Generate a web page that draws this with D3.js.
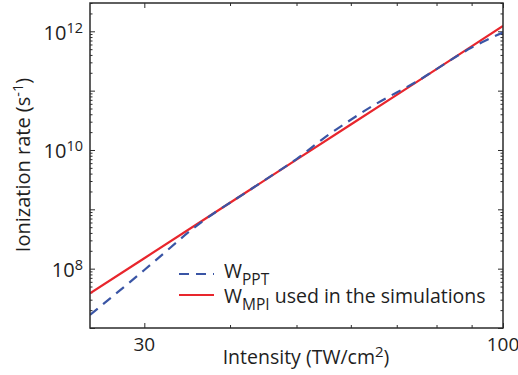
<!DOCTYPE html>
<html>
<head>
<meta charset="utf-8">
<script src="https://cdn.jsdelivr.net/npm/d3@7"></script>
<style>
  html, body { margin: 0; padding: 0; background: #fff; }
  svg { display: block; font-family: "Open Sans", "DejaVu Sans", sans-serif; }
</style>
</head>
<body>
<svg id="chart" width="518" height="375"></svg>
<script>
// Intensity grid (TW/cm^2) and ionization rates (s^-1)
const pptIntensity = [25, 30, 32.7, 35, 38.3, 40, 45, 50, 55, 60, 65, 70, 75, 80, 90, 95, 100];
const pptRate = [1.66e7, 9.5e7, 2.23e8, 4.35e8, 9.33e8, 1.29e9, 3.13e9, 7.03e9, 1.63e10, 3.23e10,
                 5.81e10, 9.33e10, 1.44e11, 2.31e11, 5.32e11, 7.28e11, 9.55e11];

const mpiIntensity = [25, 30, 40, 50, 60, 70, 80, 90, 100];
const mpiRate = [3.85e7, 1.50e8, 1.29e9, 6.87e9, 2.69e10, 8.51e10, 2.31e11, 5.57e11, 1.23e12];

// Axis ticks
const xMajorTicks = [30, 100];
const xMinorTicks = [40, 50, 60, 70, 80, 90];
const yLabelExponents = [8, 10, 12];

const svg = d3.select("#chart");
const plotLeft = 90, plotRight = 503, plotTop = 3, plotBottom = 328;

const x = d3.scaleLog().domain([25, 100]).range([plotLeft, plotRight]);
const y = d3.scaleLog().domain([1e7, 3e12]).range([plotBottom, plotTop]);

// y ticks: every decade major, 2..9 minor
const yMajor = d3.range(7, 13).map(e => Math.pow(10, e));
const yMinor = [];
for (let e = 7; e <= 12; e++) for (let k = 2; k <= 9; k++) {
  const v = k * Math.pow(10, e);
  if (v <= 3e12) yMinor.push(v);
}

const frameColor = "#2b2b2b";
const textColor = "#1e1e1e";
const red = "#e8262d";
const blue = "#3a55a5";

const g = svg.append("g");

// clip for the curves
svg.append("clipPath").attr("id", "plotclip")
  .append("rect").attr("x", plotLeft).attr("y", plotTop)
  .attr("width", plotRight - plotLeft).attr("height", plotBottom - plotTop);

// tick marks via axis generators (inward)
function tickAxis(gen, vals, size, transform) {
  g.append("g").attr("transform", transform)
    .call(gen.tickValues(vals).tickSize(size).tickFormat(""))
    .call(s => s.select(".domain").remove())
    .selectAll("line").attr("stroke", frameColor).attr("stroke-width", 1);
}
tickAxis(d3.axisBottom(x), xMajorTicks, -5, `translate(0,${plotBottom})`);
tickAxis(d3.axisBottom(x), xMinorTicks, -3, `translate(0,${plotBottom})`);
tickAxis(d3.axisTop(x), xMajorTicks, -5, `translate(0,${plotTop})`);
tickAxis(d3.axisTop(x), xMinorTicks, -3, `translate(0,${plotTop})`);
tickAxis(d3.axisLeft(y), yMajor, -5, `translate(${plotLeft},0)`);
tickAxis(d3.axisLeft(y), yMinor, -2.5, `translate(${plotLeft},0)`);
tickAxis(d3.axisRight(y), yMajor, -5, `translate(${plotRight},0)`);
tickAxis(d3.axisRight(y), yMinor, -2.5, `translate(${plotRight},0)`);

// curves
const line = d3.line().x(d => x(d[0])).y(d => y(d[1]));
const plot = g.append("g").attr("clip-path", "url(#plotclip)");

plot.append("path")
  .datum(mpiIntensity.map((v, i) => [v, mpiRate[i]]))
  .attr("fill", "none").attr("stroke", red).attr("stroke-width", 2.2)
  .attr("d", line);

plot.append("path")
  .datum(pptIntensity.map((v, i) => [v, pptRate[i]]))
  .attr("fill", "none").attr("stroke", blue).attr("stroke-width", 2.2)
  .attr("stroke-dasharray", "10,7")
  .attr("d", line.curve(d3.curveMonotoneX));

// frame
g.append("rect").attr("x", plotLeft).attr("y", plotTop)
  .attr("width", plotRight - plotLeft).attr("height", plotBottom - plotTop)
  .attr("fill", "none").attr("stroke", frameColor).attr("stroke-width", 1.5);

// x tick labels
g.selectAll(".xlab").data(xMajorTicks).enter().append("text")
  .attr("x", d => x(d)).attr("y", 351)
  .attr("text-anchor", "middle").attr("font-size", 19).attr("fill", textColor)
  .text(d => d);

// y tick labels 10^n
yLabelExponents.forEach(e => {
  const t = g.append("text")
    .attr("x", 83).attr("y", y(Math.pow(10, e)) + 8.5)
    .attr("text-anchor", "end").attr("font-size", 20).attr("fill", textColor);
  t.append("tspan").text("10");
  t.append("tspan").attr("font-size", 14.5).attr("dy", -7).text(e);
});

// axis titles
const xt = g.append("text").attr("x", 306).attr("y", 364)
  .attr("text-anchor", "middle").attr("font-size", 19.5).attr("fill", textColor);
xt.append("tspan").text("Intensity (TW/cm");
xt.append("tspan").attr("dy", -7).attr("font-size", 15).text("2");
xt.append("tspan").attr("dy", 7).text(")");

const yt = g.append("text")
  .attr("transform", `translate(30,${165}) rotate(-90)`)
  .attr("text-anchor", "middle").attr("font-size", 20).attr("fill", textColor);
yt.append("tspan").text("Ionization rate (s");
yt.append("tspan").attr("dy", -7).attr("font-size", 14.5).text("-1");
yt.append("tspan").attr("dy", 7).text(")");

// legend
const legend = g.append("g");
const legendItems = [
  { sub: "PPT", rest: "", color: blue, dash: "10,7", ly: 274, ty: 277.5 },
  { sub: "MPI", rest: " used in the simulations", color: red, dash: null, ly: 295, ty: 302.7 }
];
legendItems.forEach(it => {
  legend.append("line")
    .attr("x1", 179).attr("x2", 214).attr("y1", it.ly).attr("y2", it.ly)
    .attr("stroke", it.color).attr("stroke-width", 2.2)
    .attr("stroke-dasharray", it.dash);
  const t = legend.append("text").attr("x", 224).attr("y", it.ty)
    .attr("font-size", 19.5).attr("fill", textColor);
  t.append("tspan").text("W");
  t.append("tspan").attr("dy", 7.5).attr("font-size", 15.5).text(it.sub);
  if (it.rest) t.append("tspan").attr("dy", -7.5).text(it.rest);
});
</script>
</body>
</html>
